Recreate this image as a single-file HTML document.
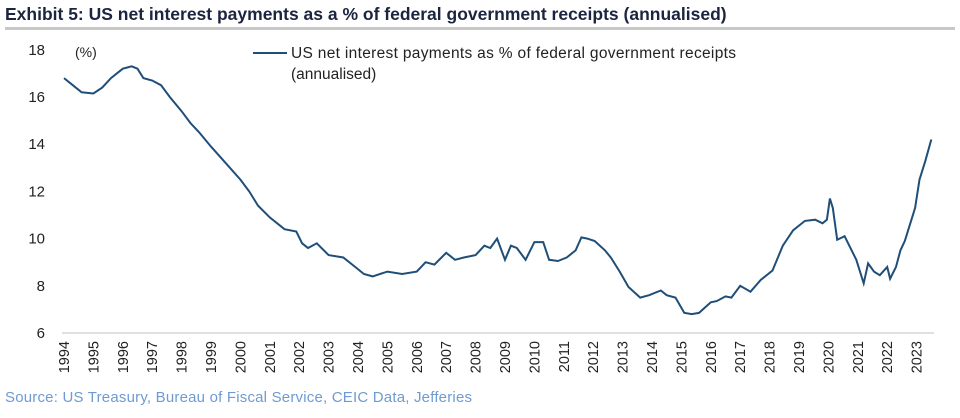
<!DOCTYPE html>
<html><head><meta charset="utf-8"><style>
body{margin:0;background:#fff;width:960px;height:413px;overflow:hidden;font-family:"Liberation Sans",sans-serif}
</style></head><body>
<svg width="960" height="413">
<text x="5" y="20" font-size="17.5" font-weight="bold" fill="#1c2540">Exhibit 5: US net interest payments as a % of federal government receipts (annualised)</text>
<rect x="5" y="27" width="950" height="3" fill="#c8c8c8"/>
<g id="yaxis"></g>
<g id="xaxis"></g>
<text x="75" y="57" font-size="14" fill="#222">(%)</text>
<line x1="253" y1="53" x2="287" y2="53" stroke="#1f4e79" stroke-width="2"/>
<text x="291" y="58" font-size="15.5" fill="#222" textLength="445">US net interest payments as % of federal government receipts</text>
<text x="291" y="79" font-size="15.5" fill="#222">(annualised)</text>
<path id="line" fill="none" stroke="#1f4e79" stroke-width="2"/>
<text x="5" y="402" font-size="15" fill="#6f9bd1" textLength="467">Source: US Treasury, Bureau of Fiscal Service, CEIC Data, Jefferies</text>
</svg>
<script>
const years=[1994,1994.3,1994.6,1995,1995.3,1995.6,1996,1996.3,1996.5,1996.7,1997,1997.3,1997.6,1998,1998.3,1998.6,1999,1999.5,2000,2000.3,2000.6,2001,2001.5,2001.9,2002.1,2002.3,2002.6,2003,2003.5,2003.9,2004.2,2004.5,2005,2005.5,2006,2006.3,2006.6,2007,2007.3,2007.6,2008,2008.3,2008.5,2008.73,2009,2009.2,2009.4,2009.7,2010,2010.3,2010.5,2010.8,2011.1,2011.4,2011.6,2011.8,2012.05,2012.4,2012.6,2012.9,2013.2,2013.6,2013.9,2014.3,2014.5,2014.8,2015.1,2015.35,2015.6,2016,2016.2,2016.5,2016.7,2017,2017.35,2017.7,2018.1,2018.45,2018.8,2019.2,2019.55,2019.8,2019.95,2020.05,2020.15,2020.3,2020.55,2020.95,2021.2,2021.35,2021.55,2021.75,2022,2022.1,2022.3,2022.45,2022.6,2022.8,2022.95,2023.1,2023.3,2023.5];
const values=[16.8,16.5,16.2,16.15,16.4,16.8,17.2,17.3,17.2,16.8,16.7,16.5,16.0,15.4,14.9,14.5,13.9,13.2,12.5,12.0,11.4,10.9,10.4,10.3,9.8,9.6,9.8,9.3,9.2,8.8,8.5,8.4,8.6,8.5,8.6,9.0,8.9,9.4,9.1,9.2,9.3,9.7,9.6,10.0,9.1,9.7,9.6,9.1,9.85,9.85,9.1,9.05,9.2,9.5,10.05,10.0,9.9,9.5,9.2,8.6,7.95,7.5,7.6,7.8,7.6,7.5,6.85,6.8,6.85,7.3,7.35,7.55,7.5,8.0,7.75,8.25,8.65,9.7,10.35,10.75,10.8,10.65,10.8,11.7,11.3,9.95,10.1,9.1,8.1,8.95,8.6,8.45,8.8,8.3,8.8,9.5,9.9,10.7,11.3,12.5,13.3,14.2];
const yTicks=[6,8,10,12,14,16,18];
const xTicks=[1994,1995,1996,1997,1998,1999,2000,2001,2002,2003,2004,2005,2006,2007,2008,2009,2010,2011,2012,2013,2014,2015,2016,2017,2018,2019,2020,2021,2022,2023];
const X=v=>64+(v-1994)*29.4, Y=v=>333-(v-6)*23.6;
const NS='http://www.w3.org/2000/svg';
const ya=document.getElementById('yaxis'), xa=document.getElementById('xaxis');
yTicks.forEach(t=>{const e=document.createElementNS(NS,'text');


e.setAttribute('x',45);e.setAttribute('y',Y(t)+5);e.setAttribute('text-anchor','end');e.setAttribute('font-size','15');e.setAttribute('fill','#222');e.textContent=t;ya.appendChild(e);});
const ax=document.createElementNS(NS,'line');


ax.setAttribute('x1',62);ax.setAttribute('x2',934);ax.setAttribute('y1',Y(6));ax.setAttribute('y2',Y(6));ax.setAttribute('stroke','#d6d6d6');ax.setAttribute('stroke-width','1.5');xa.appendChild(ax);
xTicks.forEach(t=>{const e=document.createElementNS(NS,'text');


const x=X(t)+5,y=341;e.setAttribute('transform',`translate(${x},${y}) rotate(-90)`);e.setAttribute('text-anchor','end');e.setAttribute('font-size','14.5');e.setAttribute('fill','#222');e.textContent=t;xa.appendChild(e);});
document.getElementById('line').setAttribute('d',years.map((y,i)=>(i?'L':'M')+X(y).toFixed(1)+','+Y(values[i]).toFixed(1)).join(''));
</script>
</body></html>
